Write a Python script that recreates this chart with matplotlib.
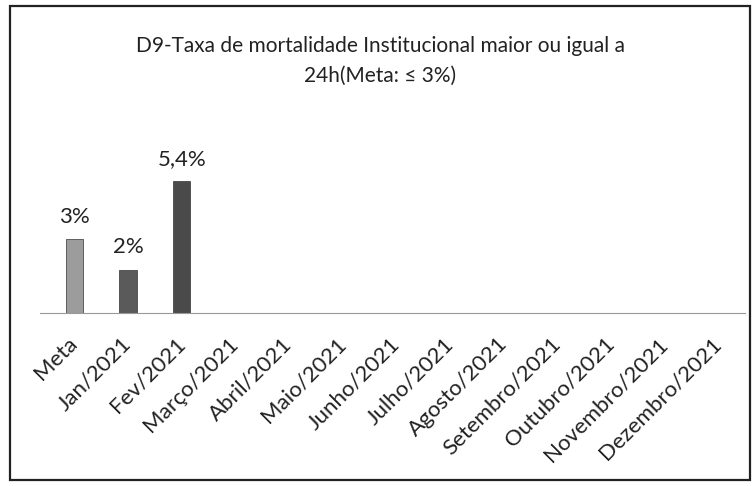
import matplotlib.pyplot as plt
from matplotlib.patches import Rectangle

categorias = ['Meta', 'Jan/2021', 'Fev/2021', 'Março/2021', 'Abril/2021', 'Maio/2021',
              'Junho/2021', 'Julho/2021', 'Agosto/2021', 'Setembro/2021', 'Outubro/2021',
              'Novembro/2021', 'Dezembro/2021']
valores = [3, 1.75, 5.35]
rotulos = ['3%', '2%', '5,4%']
cores = ['#9c9c9c', '#5a5a5a', '#4a4a4a']

plt.rcParams['font.family'] = ['Lato', 'DejaVu Sans']

fig = plt.figure(figsize=(7.55, 4.86), dpi=100)
W, H = 755, 486

# moldura do grafico
fig.patches.append(Rectangle((10 / W, 6 / H), 740 / W, 474 / H, transform=fig.transFigure,
                             fill=False, edgecolor='#222222', linewidth=1.6))

ax = fig.add_axes([40 / W, (H - 313) / H, 705 / W, 213 / H])
x = list(range(len(categorias)))
ax.bar(x[:len(valores)], valores, width=0.32, color=cores, edgecolor='#333333', linewidth=0.5)
for xi, v, r in zip(x, valores, rotulos):
    ax.text(xi, v + 0.5, r, ha='center', va='bottom', fontsize=16, color='#222222')

ax.set_xlim(-0.64, 12.49)
ax.set_ylim(0, 8.63)
ax.set_yticks([])
ax.set_xticks(x)
ax.set_xticklabels(categorias, rotation=45, ha='right', va='center', rotation_mode='anchor',
                   fontsize=16, color='#222222')
ax.tick_params(axis='x', length=0, pad=20)
for s in ['top', 'right', 'left']:
    ax.spines[s].set_visible(False)
ax.spines['bottom'].set_color('#999999')
ax.spines['bottom'].set_linewidth(0.8)

fig.text(380 / W, 1 - 46 / H, 'D9-Taxa de mortalidade Institucional maior ou igual a',
         ha='center', va='center', fontsize=15, color='#222222')
fig.text(380 / W, 1 - 76 / H, '24h(Meta: ≤ 3%)', ha='center', va='center', fontsize=15,
         color='#222222')

fig.savefig('out.png', dpi=100)
